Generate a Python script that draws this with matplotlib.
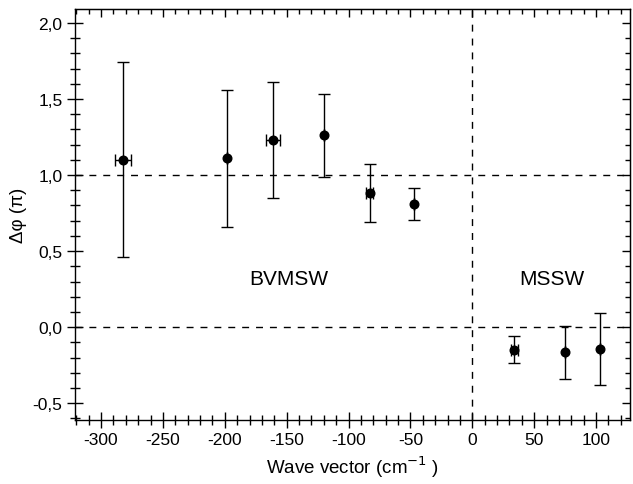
import matplotlib
matplotlib.use("Agg")
import matplotlib.pyplot as plt
from matplotlib.ticker import MultipleLocator, FuncFormatter, NullFormatter

plt.rcParams['font.family'] = ['Liberation Sans', 'DejaVu Sans']

# data
wave_vector = [-282, -198, -161, -120, -83, -47, 34, 75, 103]
dphi = [1.10, 1.11, 1.23, 1.26, 0.88, 0.81, -0.15, -0.165, -0.145]
err_low = [0.64, 0.45, 0.38, 0.27, 0.19, 0.105, 0.085, 0.175, 0.235]
err_high = [0.64, 0.45, 0.38, 0.27, 0.19, 0.105, 0.09, 0.17, 0.235]
xerr_vals = [6.5, 0, 5.5, 0, 2.5, 0, 3, 0, 0]
region_labels = ["BVMSW", "MSSW"]
region_x = [-148, 64]
region_y = [0.32, 0.32]

fig = plt.figure(figsize=(6.33, 4.85), dpi=100)
ax = fig.add_axes([0.1185, 0.132, 0.876, 0.847])

ax.axhline(1.0, color='black', lw=1.0, ls=(0, (5, 5)), zorder=1)
ax.axhline(0.0, color='black', lw=1.0, ls=(0, (5, 5)), zorder=1)
ax.axvline(0.0, color='black', lw=1.0, ls=(0, (5, 5)), zorder=1)

ax.errorbar(wave_vector, dphi, yerr=[err_low, err_high], xerr=xerr_vals,
            fmt='o', color='black', ms=6.2, elinewidth=1.0, capsize=4,
            capthick=1.0, zorder=3)

for t, x, y in zip(region_labels, region_x, region_y):
    ax.text(x, y, t, ha='center', va='center', fontsize=15)

ax.set_xlim(-321, 127)
ax.set_ylim(-0.61, 2.09)

ax.xaxis.set_major_locator(MultipleLocator(50))
ax.xaxis.set_minor_locator(MultipleLocator(10))
ax.yaxis.set_major_locator(MultipleLocator(0.5))
ax.yaxis.set_minor_locator(MultipleLocator(0.1))

ax.xaxis.set_major_formatter(FuncFormatter(lambda v, p: f"{int(round(v))}"))
ax.yaxis.set_major_formatter(FuncFormatter(lambda v, p: f"{v:.1f}".replace('.', ',')))

ax.tick_params(axis='both', which='major', direction='inout', length=11, width=1.0,
               labelsize=12.5)
ax.tick_params(axis='both', which='minor', direction='inout', length=7, width=1.0)
for s in ax.spines.values():
    s.set_linewidth(1.0)

# top and right inward ticks
top = ax.secondary_xaxis('top')
top.xaxis.set_major_locator(MultipleLocator(50))
top.xaxis.set_minor_locator(MultipleLocator(10))
top.xaxis.set_major_formatter(NullFormatter())
top.tick_params(which='major', direction='in', length=6, width=1.0)
top.tick_params(which='minor', direction='in', length=3.5, width=1.0)
right = ax.secondary_yaxis('right')
right.yaxis.set_major_locator(MultipleLocator(0.5))
right.yaxis.set_minor_locator(MultipleLocator(0.1))
right.yaxis.set_major_formatter(NullFormatter())
right.tick_params(which='major', direction='in', length=6, width=1.0)
right.tick_params(which='minor', direction='in', length=3.5, width=1.0)

ax.set_xlabel("Wave vector (cm$^{-1}$ )", fontsize=13.5, labelpad=4)
ax.set_ylabel("Δφ (π)", fontsize=13.5, labelpad=4)

fig.savefig("out.png", dpi=100)
